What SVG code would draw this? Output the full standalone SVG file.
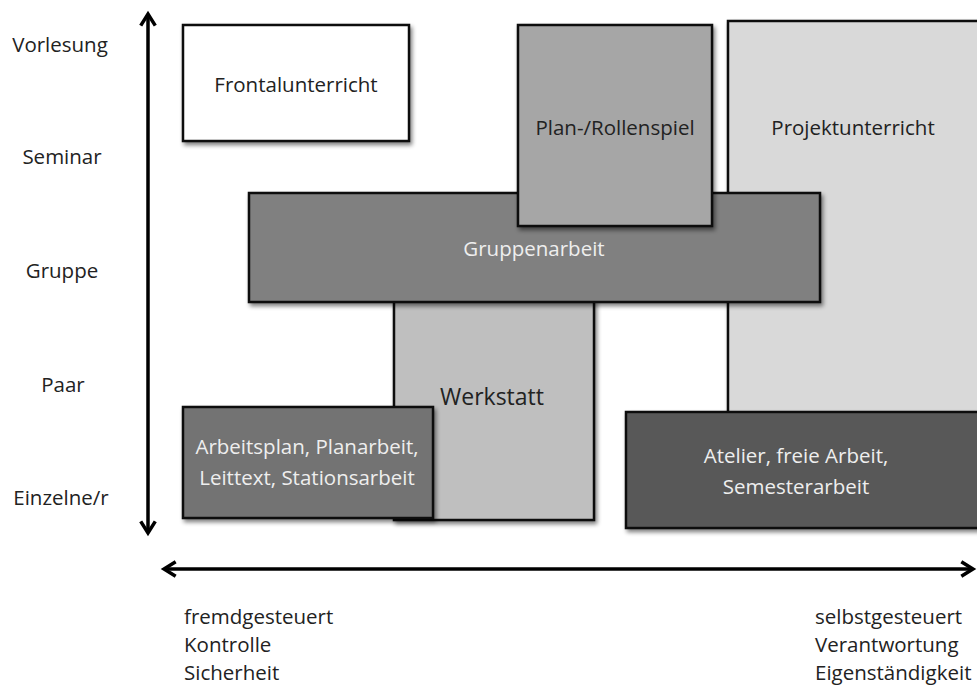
<svg xmlns="http://www.w3.org/2000/svg" width="977" height="686" viewBox="0 0 977 686">
<style>
.box{stroke:#111;stroke-width:2.5;filter:url(#sh)}
.lbl{font-family:"Open Sans","Liberation Sans",sans-serif;font-size:20.5px;fill:#222}
.yl{font-family:"Open Sans","Liberation Sans",sans-serif;font-size:20.5px;fill:#222;text-anchor:middle}
.dk{font-family:"Open Sans","Liberation Sans",sans-serif;font-size:20.5px;fill:#222;text-anchor:middle}
.lt{font-family:"Open Sans","Liberation Sans",sans-serif;font-size:20.5px;fill:#eee;text-anchor:middle}
.ax{stroke:#000;stroke-width:3.5;fill:none}
</style>
<defs>
<filter id="sh" x="-10%" y="-10%" width="130%" height="130%">
<feGaussianBlur in="SourceAlpha" stdDeviation="2"/>
<feOffset dx="2" dy="3" result="b"/>
<feComponentTransfer><feFuncA type="linear" slope="0.5"/></feComponentTransfer>
<feMerge><feMergeNode/><feMergeNode in="SourceGraphic"/></feMerge>
</filter>
<marker id="ah" viewBox="0 0 12 12" refX="9" refY="6" markerWidth="5" markerHeight="5" orient="auto-start-reverse" markerUnits="strokeWidth">
<path d="M1,1 L9,6 L1,11" fill="none" stroke="#000" stroke-width="2.4"/>
</marker>
</defs>
<rect width="977" height="686" fill="#fff"/>
<g id="axes">
<line class="ax" x1="148" y1="14" x2="148" y2="533" marker-start="url(#ah)" marker-end="url(#ah)"/>
<line class="ax" x1="164" y1="569" x2="973" y2="569" marker-start="url(#ah)" marker-end="url(#ah)"/>
</g>
<g id="labels-y">
<text class="yl" x="60" y="52">Vorlesung</text>
<text class="yl" x="62" y="164">Seminar</text>
<text class="yl" x="62" y="278">Gruppe</text>
<text class="yl" x="63" y="392">Paar</text>
<text class="yl" x="61" y="505">Einzelne/r</text>
</g>
<g id="labels-x">
<text class="lbl" x="184" y="624">fremdgesteuert</text>
<text class="lbl" x="184" y="652">Kontrolle</text>
<text class="lbl" x="184" y="680">Sicherheit</text>
<text class="lbl" x="815" y="624">selbstgesteuert</text>
<text class="lbl" x="815" y="652">Verantwortung</text>
<text class="lbl" x="815" y="680">Eigenständigkeit</text>
</g>
<g id="projektunterricht">
<rect class="box" x="728" y="21" width="260" height="392" fill="#d9d9d9"/>
<text class="dk" x="853" y="135">Projektunterricht</text>
</g>
<g id="frontalunterricht">
<rect class="box" x="183" y="25" width="226" height="116" fill="#fff"/>
<text class="dk" x="296" y="92">Frontalunterricht</text>
</g>
<g id="werkstatt">
<rect class="box" x="394" y="300" width="200" height="220" fill="#bfbfbf"/>
<text class="dk" x="492" y="405" style="font-size:23px">Werkstatt</text>
</g>
<g id="gruppenarbeit">
<rect class="box" x="249" y="193" width="571" height="109" fill="#808080"/>
<text class="lt" x="534" y="256">Gruppenarbeit</text>
</g>
<g id="planrollenspiel">
<rect class="box" x="518" y="25" width="194" height="201" fill="#a6a6a6"/>
<text class="dk" x="615" y="135">Plan-/Rollenspiel</text>
</g>
<g id="arbeitsplan">
<rect class="box" x="183" y="407" width="250" height="111" fill="#737373"/>
<text class="lt" x="307" y="454">Arbeitsplan, Planarbeit,</text>
<text class="lt" x="307" y="485">Leittext, Stationsarbeit</text>
</g>
<g id="atelier">
<rect class="box" x="626" y="412" width="362" height="116" fill="#595959"/>
<text class="lt" x="796" y="463">Atelier, freie Arbeit,</text>
<text class="lt" x="796" y="494">Semesterarbeit</text>
</g>
</svg>
